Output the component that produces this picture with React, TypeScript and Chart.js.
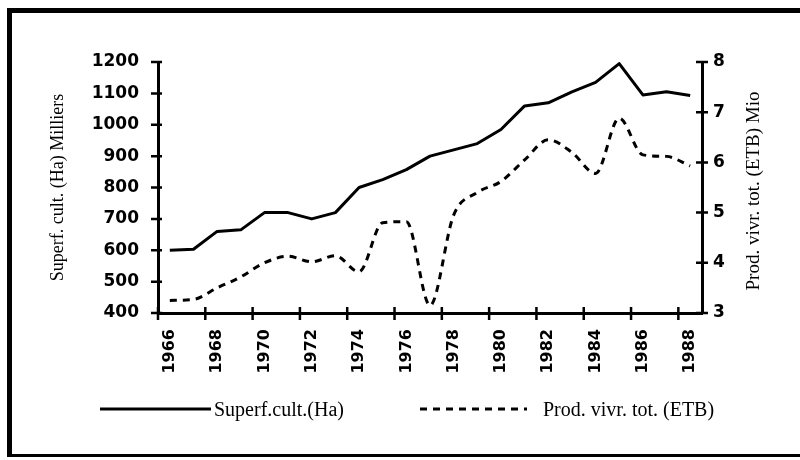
import React, { useEffect, useRef } from 'react';
import { Chart, registerables } from 'chart.js';

Chart.register(...registerables);

// ---- data ----
const years = [
  '1966', '1967', '1968', '1969', '1970', '1971', '1972', '1973', '1974', '1975', '1976', '1977',
  '1978', '1979', '1980', '1981', '1982', '1983', '1984', '1985', '1986', '1987', '1988',
];
const superfCult = [
  600, 603, 660, 665, 720, 720, 700, 720, 800, 825, 857, 900,
  920, 940, 985, 1060, 1070, 1105, 1135, 1195, 1095, 1105, 1093,
];
const prodVivr = [
  3.25, 3.27, 3.5, 3.72, 4.0, 4.13, 4.02, 4.14, 3.82, 4.8, 4.82, 3.15,
  4.95, 5.4, 5.62, 6.05, 6.45, 6.2, 5.78, 6.88, 6.15, 6.12, 5.93,
];
const leftAxisRange = [400, 1200];
const leftAxisStep = 100;
const rightAxisRange = [3, 8];
const rightAxisStep = 1;
const seriesNames = ['Superf.cult.(Ha)', 'Prod. vivr. tot. (ETB)'];
const leftTitle = 'Superf. cult. (Ha) Milliers';
const rightTitle = 'Prod. vivr. tot. (ETB) Mio';

const crossTicks = {
  id: 'crossTicks',
  afterDatasetsDraw(chart: any) {
    const ctx = chart.ctx;
    const { x, y, y1 } = chart.scales;
    ctx.save();
    ctx.strokeStyle = '#000';
    ctx.lineWidth = 2.5;
    ctx.beginPath();
    y.ticks.forEach((t: any) => {
      const py = y.getPixelForValue(t.value);
      ctx.moveTo(y.right - 7, py);
      ctx.lineTo(y.right + 4, py);
    });
    y1.ticks.forEach((t: any) => {
      const py = y1.getPixelForValue(t.value);
      ctx.moveTo(y1.left - 6, py);
      ctx.lineTo(y1.left + 6, py);
    });
    const half = (x.getPixelForValue(1) - x.getPixelForValue(0)) / 2;
    for (let i = 0; i < years.length; i += 2) {
      const px = x.getPixelForValue(i) - half;
      ctx.moveTo(px, x.top - 6);
      ctx.lineTo(px, x.top + 7);
    }
    ctx.stroke();
    ctx.restore();
  },
};

export default function App() {
  const canvasRef = useRef<HTMLCanvasElement | null>(null);

  useEffect(() => {
    if (!canvasRef.current) return;
    const tickFont = { family: 'DejaVu Sans', size: 17, weight: 'bold' as const };
    const chart = new Chart(canvasRef.current, {
      type: 'line',
      data: {
        labels: years,
        datasets: [
          {
            label: seriesNames[0],
            data: superfCult,
            yAxisID: 'y',
            borderColor: '#000',
            backgroundColor: '#000',
            borderWidth: 3,
            pointRadius: 0,
            tension: 0,
            borderJoinStyle: 'round',
          },
          {
            label: seriesNames[1],
            data: prodVivr,
            yAxisID: 'y1',
            borderColor: '#000',
            backgroundColor: '#000',
            borderWidth: 3,
            borderDash: [7, 6],
            pointRadius: 0,
            cubicInterpolationMode: 'monotone',
          },
        ],
      },
      options: {
        responsive: false,
        animation: false,
        layout: { padding: { top: 62, left: 0, right: 0, bottom: 0 } },
        plugins: {
          legend: { display: false },
          tooltip: { enabled: false },
        },
        scales: {
          x: {
            type: 'category',
            offset: true,
            grid: { display: false },
            border: { display: true, color: '#000', width: 3 },
            ticks: {
              autoSkip: false,
              minRotation: 90,
              maxRotation: 90,
              padding: 8,
              color: '#000',
              font: { family: 'DejaVu Sans', size: 16, weight: 'bold' },
              callback: (_v: any, i: number) => (i % 2 === 0 ? years[i] : ''),
            },
            afterFit: (s: any) => {
              s.height = 147;
            },
          },
          y: {
            position: 'left',
            min: leftAxisRange[0],
            max: leftAxisRange[1],
            grid: { display: false },
            border: { display: true, color: '#000', width: 3 },
            ticks: {
              stepSize: leftAxisStep,
              padding: 11,
              color: '#000',
              font: tickFont,
              callback: (v: any) => String(v),
            },
            title: {
              display: true,
              text: leftTitle,
              color: '#000',
              font: { family: 'Liberation Serif', size: 18 },
              padding: { top: 47, bottom: 0 },
            },
            afterFit: (s: any) => {
              s.width = 158;
            },
          },
          y1: {
            position: 'right',
            min: rightAxisRange[0],
            max: rightAxisRange[1],
            grid: { display: false },
            border: { display: true, color: '#000', width: 3 },
            ticks: {
              stepSize: rightAxisStep,
              padding: 3,
              color: '#000',
              font: tickFont,
              callback: (v: any) => String(v),
            },
            afterFit: (s: any) => {
              s.width = 98;
            },
          },
        },
      },
      plugins: [crossTicks],
    });
    return () => chart.destroy();
  }, []);

  const serif = "'Liberation Serif', serif";
  return (
    <div
      style={{
        position: 'fixed',
        left: 0,
        top: 0,
        width: 800,
        height: 460,
        overflow: 'hidden',
        background: '#fff',
      }}
    >
      <canvas ref={canvasRef} width={800} height={460} style={{ position: 'absolute', left: 0, top: 0 }} />
      <div
        style={{
          position: 'absolute',
          left: 7,
          top: 8,
          width: 820,
          height: 449,
          borderLeft: '5px solid #000',
          borderTop: '5px solid #000',
          borderBottom: '3px solid #000',
          boxSizing: 'border-box',
          pointerEvents: 'none',
        }}
      />
      <div
        style={{
          position: 'absolute',
          left: 752,
          top: 191,
          transform: 'translate(-50%, -50%) rotate(-90deg)',
          whiteSpace: 'nowrap',
          fontFamily: serif,
          fontSize: 19,
          color: '#000',
          lineHeight: 1,
        }}
      >
        {rightTitle}
      </div>
      <svg width={800} height={460} style={{ position: 'absolute', left: 0, top: 0, pointerEvents: 'none' }}>
        <line x1={100} y1={409} x2={211} y2={409} stroke="#000" strokeWidth={3} />
        <line x1={420} y1={409} x2={527} y2={409} stroke="#000" strokeWidth={3} strokeDasharray="7 6" />
      </svg>
      <div
        style={{
          position: 'absolute',
          left: 214,
          top: 409,
          transform: 'translateY(-50%)',
          whiteSpace: 'nowrap',
          fontFamily: serif,
          fontSize: 20,
          color: '#000',
          lineHeight: 1,
        }}
      >
        {seriesNames[0]}
      </div>
      <div
        style={{
          position: 'absolute',
          left: 543,
          top: 409,
          transform: 'translateY(-50%)',
          whiteSpace: 'nowrap',
          fontFamily: serif,
          fontSize: 20,
          color: '#000',
          lineHeight: 1,
        }}
      >
        {seriesNames[1]}
      </div>
    </div>
  );
}
